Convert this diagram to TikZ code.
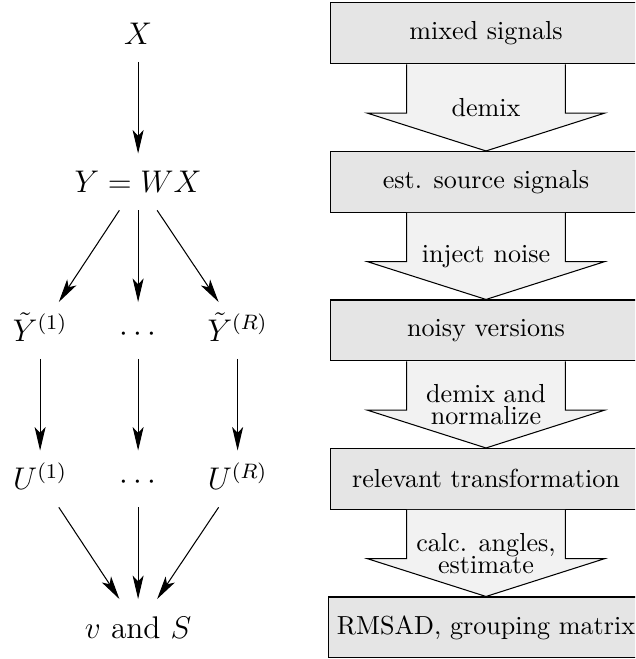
\documentclass[tikz,border=0pt]{standalone}
\usetikzlibrary{arrows.meta,calc}

\tikzset{
  mathnode/.style={minimum height=0.75cm,font=\large,text height=8.2pt,text depth=0pt},
  stage/.style={draw,fill=gray!20,minimum width=4.18cm,minimum height=0.82cm},
  fatarrow/.style={draw,fill=gray!10,line join=miter},
  >={Stealth[length=9pt,width=4.2pt,inset=2.2pt]}
}

\begin{document}
\begin{tikzpicture}
  \path[use as bounding box,clip] (0,-8.875) rectangle (8.552,0);

  % left: what happens to the data
  \node[mathnode] (nx)  at (1.86,-0.45) {$X$};
  \node[mathnode] (nwx) at (1.86,-2.45) {$Y=WX$};
  \node[mathnode] (yt1) at (0.54,-4.45) {$\tilde Y^{(1)}$};
  \node[mathnode] (ytd) at (1.86,-4.45) {$\cdots$};
  \node[mathnode] (ytr) at (3.20,-4.45) {$\tilde Y^{(R)}$};
  \node[mathnode] (u1)  at (0.54,-6.45) {$U^{(1)}$};
  \node[mathnode] (ud)  at (1.86,-6.45) {$\cdots$};
  \node[mathnode] (ur)  at (3.20,-6.45) {$U^{(R)}$};
  \node[mathnode] (vs)  at (1.86,-8.45) {$v$ and $S$};

  \draw[->] (nx) -- (nwx);
  \foreach \t in {yt1,ytd,ytr}
    \draw[->] (nwx) -- (\t);
  \draw[->] (yt1) -- (u1);
  \draw[->] (ytd) -- (ud);
  \draw[->] (ytr) -- (ur);
  \foreach \s in {u1,ud,ur}
    \draw[->] (\s) -- (vs);

  % right: the steps
  \node[stage] (mix)   at (6.545,-0.45) {mixed signals};
  \node[stage] (est)   at (6.545,-2.45) {est. source signals};
  \node[stage] (noisy) at (6.545,-4.45) {noisy versions};
  \node[stage] (rel)   at (6.545,-6.45) {relevant transformation};
  \node[stage] (rms)   at (6.545,-8.45) {RMSAD, grouping matrix};

  \foreach \a/\b/\txt in {mix/est/demix, est/noisy/inject noise,
      noisy/rel/{demix and\\[-3.6pt] normalize},
      rel/rms/{calc. angles,\\[-3.6pt] estimate}} {
    \draw[fatarrow] ($(\a.south)+(-1.07,0)$) -- ($(\b.north)+(-1.07,0.51)$)
      -- ($(\b.north)+(-1.6,0.51)$) -- (\b.north) -- ($(\b.north)+(1.6,0.51)$)
      -- ($(\b.north)+(1.07,0.51)$) -- ($(\a.south)+(1.07,0)$);
    \node[align=center] at ($(\a.south)!0.5!(\b.north)$) {\txt};
  }
\end{tikzpicture}
\end{document}
